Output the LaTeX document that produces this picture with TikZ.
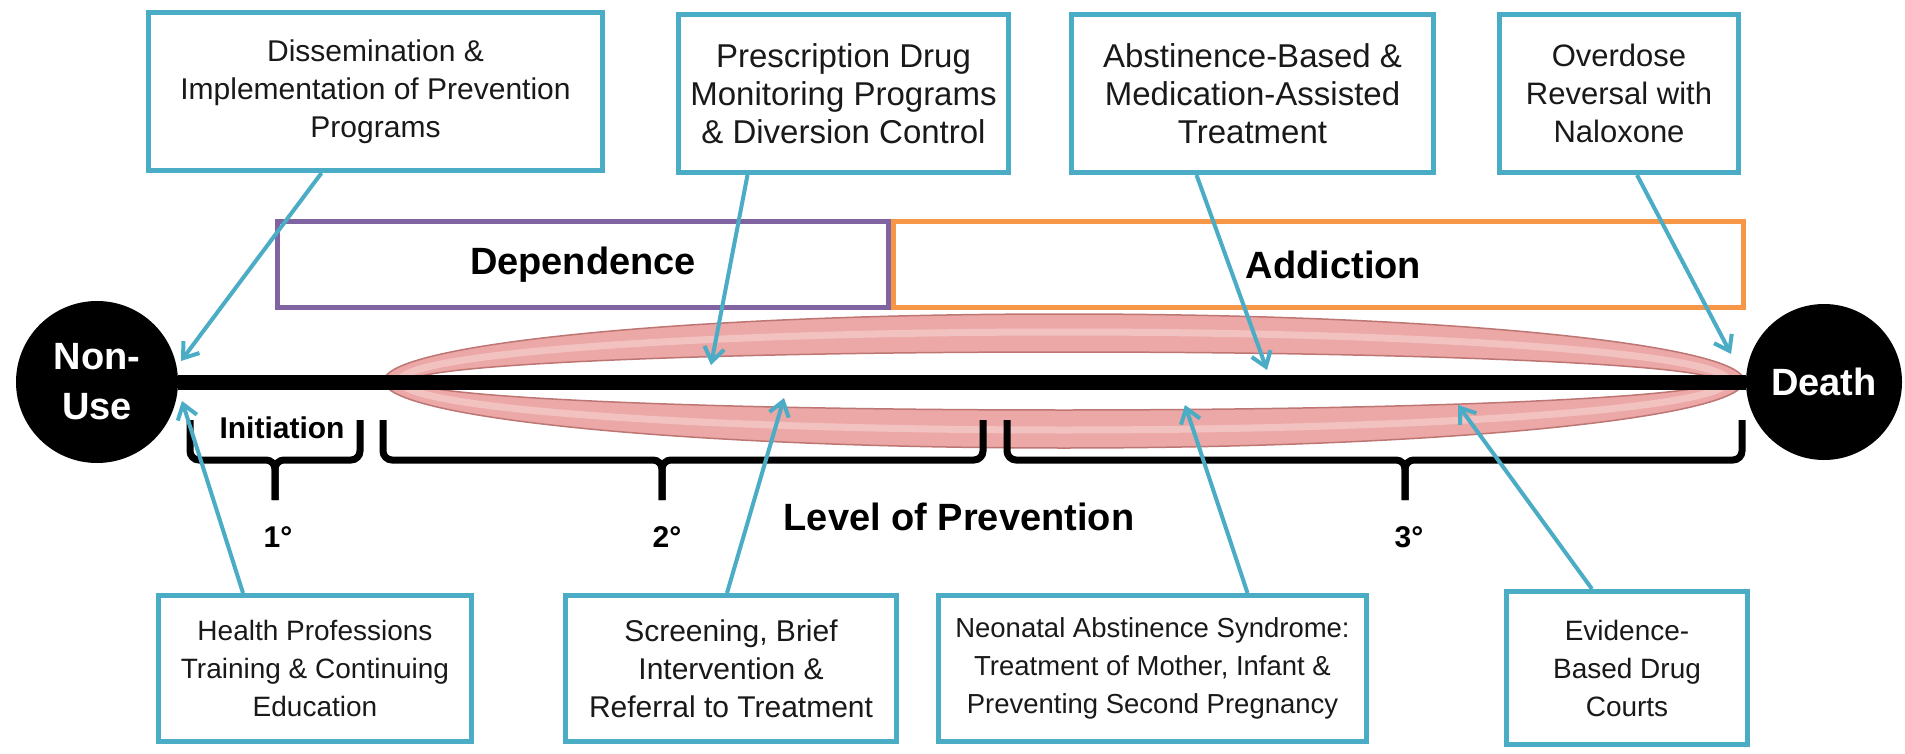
\documentclass[tikz,border=0pt]{standalone}
\usepackage{fontspec}
\setmainfont{Liberation Sans}
\usetikzlibrary{arrows.meta,positioning,calc}
\definecolor{aqua}{RGB}{75,172,198}
\definecolor{depviolet}{RGB}{128,100,162}
\definecolor{addorange}{RGB}{247,150,70}
\definecolor{pinkfill}{RGB}{236,168,166}
\definecolor{pinkedge}{RGB}{190,118,116}
\definecolor{inkdark}{RGB}{25,25,25}
\tikzset{
  ibox/.style={rectangle, draw=aqua, line width=5pt, fill=white,
               align=center, inner sep=0pt, text=inkdark,
               font=\fontsize{#1}{38}\selectfont},
  ibox/.default=30,
  stagebox/.style={rectangle, line width=5pt, minimum height=86pt,
                   font=\fontsize{38}{46}\selectfont\bfseries},
  endnode/.style={circle, fill=black, inner sep=0pt, align=center,
                  text=white, font=\fontsize{38}{50}\selectfont\bfseries},
  lvl/.style={font=\fontsize{30}{36}\selectfont\bfseries},
  brace/.style={line width=7pt, rounded corners=9pt},
  arr/.style={-{Straight Barb[length=14pt,width=20pt]}, line width=4pt, color=aqua},
}
\begin{document}
\begin{tikzpicture}[x=1pt, y=-1pt]
    \useasboundingbox[fill=white] (0,0) rectangle (1905,754);
    % tube round the timeline
    \fill[pinkfill, even odd rule] (1064,381) ellipse [x radius=680, y radius=67]
                                   (1064,381) ellipse [x radius=652, y radius=29];
    \draw[white, opacity=0.3, line width=7pt] (1064,381) ellipse [x radius=664, y radius=49];
    \draw[pinkedge, line width=1.5pt] (1064,381) ellipse [x radius=680, y radius=67]
                                      (1064,381) ellipse [x radius=652, y radius=29];

    \node[stagebox, draw=depviolet, minimum width=611pt] (dep) at (583,264.5) {Dependence};
    \node[stagebox, draw=addorange, minimum width=850pt] (addic) at (1318.5,264.5) {\hspace*{30pt}Addiction};

    \node[endnode, minimum size=162pt] (nonuse) at (97,382) {Non-\\Use};
    \node[endnode, minimum size=156pt] (death) at (1824,382) {Death};
    \draw[line width=15pt] (nonuse) -- (death);

    % braces
    \draw[brace] (190,420) -- (190,460) -- (275,460) -- (275,500);
    \draw[brace] (360,420) -- (360,460) -- (275,460) -- (275,500);
    \draw[brace] (383,420) -- (383,460) -- (662,460) -- (662,500);
    \draw[brace] (983,420) -- (983,460) -- (662,460) -- (662,500);
    \draw[brace] (1007,420) -- (1007,460) -- (1405,460) -- (1405,500);
    \draw[brace] (1742,420) -- (1742,460) -- (1405,460) -- (1405,500);

    \node[lvl] (init) at (282,428) {Initiation};
    \node[lvl] (lvl1) at (278,537) {1°};
    \node[lvl] (lvl2) at (667,537) {2°};
    \node[lvl] (lvl3) at (1409,537) {3°};
    \node[font=\fontsize{38}{46}\selectfont\bfseries] (lop) at (959,517) {Level of Prevention};

    % interventions
    \node[ibox, minimum width=454pt, minimum height=158pt] (dissem) at (375.5,91.5)
        {Dissemination \&\\Implementation of Prevention\\Programs};
    \node[ibox=33, minimum width=330pt, minimum height=158pt] (pdmp) at (843.5,93.5)
        {Prescription Drug\\Monitoring Programs\\\& Diversion Control};
    \node[ibox=33, minimum width=362pt, minimum height=158pt] (mat) at (1252.5,93.5)
        {Abstinence-Based \&\\Medication-Assisted\\Treatment};
    \node[ibox=31, minimum width=239pt, minimum height=158pt] (naloxone) at (1619,93.5)
        {Overdose\\Reversal with\\Naloxone};
    \node[ibox=28, minimum width=313pt, minimum height=146pt] (hpt) at (315,668.5)
        {Health Professions\\Training \& Continuing\\Education};
    \node[ibox, minimum width=331pt, minimum height=146pt] (sbirt) at (731,668.5)
        {Screening, Brief\\Intervention \&\\Referral to Treatment};
    \node[ibox=27.5, minimum width=428pt, minimum height=146pt] (nas) at (1152.5,668.5)
        {Neonatal Abstinence Syndrome:\\Treatment of Mother, Infant \&\\Preventing Second Pregnancy};
    \node[ibox=28, minimum width=241pt, minimum height=153pt] (courts) at (1627,668)
        {Evidence-\\Based Drug\\Courts};

    \coordinate (tip1) at (181,361);
    \coordinate (tip2) at (711,365);
    \coordinate (tip3) at (1267,370);
    \coordinate (tip4) at (1731,354);
    \coordinate (tip5) at (182,401);
    \coordinate (tip6) at (784,398);
    \coordinate (tip7) at (1185,405);
    \coordinate (tip8) at (1458,405);
    \draw[arr] ([xshift=-54pt]dissem.south) -- (tip1);
    \draw[arr] ([xshift=-96pt]pdmp.south) -- (tip2);
    \draw[arr] ([xshift=-56pt]mat.south) -- (tip3);
    \draw[arr] ([xshift=18pt]naloxone.south) -- (tip4);
    \draw[arr] ([xshift=-72pt]hpt.north) -- (tip5);
    \draw[arr] ([xshift=-4pt]sbirt.north) -- (tip6);
    \draw[arr] ([xshift=95pt]nas.north) -- (tip7);
    \draw[arr] ([xshift=-35pt]courts.north) -- (tip8);
\end{tikzpicture}
\end{document}
